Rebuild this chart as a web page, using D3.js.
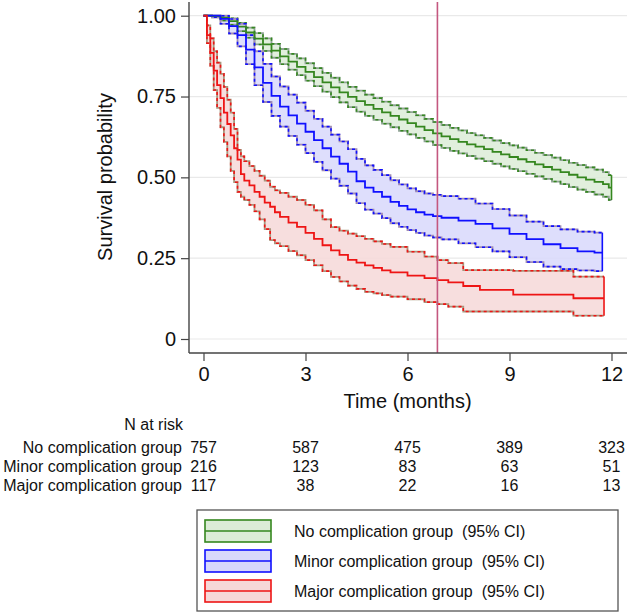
<!DOCTYPE html>
<html>
<head>
<meta charset="utf-8">
<script src="https://cdn.jsdelivr.net/npm/d3@7"></script>
<style>
  html, body { margin: 0; padding: 0; background: #fff; }
  svg { display: block; font-family: "Liberation Sans", Arial, Helvetica, sans-serif; }
</style>
</head>
<body>
<svg id="chart" width="628" height="615"></svg>
<script>
// ---------------- Data ----------------
const groupNames = ["No complication group", "Minor complication group", "Major complication group"];
const yTicks = [0, 0.25, 0.5, 0.75, 1];
const yTickLabels = ["0", "0.25", "0.50", "0.75", "1.00"];
const xTicks = [0, 3, 6, 9, 12];
const referenceTime = 6.88;

// No complication group
const noT  = [0,0.25,0.5,0.75,1.0,1.25,1.5,1.75,2.0,2.25,2.5,2.75,3.0,3.25,3.5,3.75,4.0,4.25,4.5,4.75,5.0,5.25,5.5,5.75,6.0,6.25,6.5,6.75,7.0,7.25,7.5,7.75,8.0,8.25,8.5,8.75,9.0,9.25,9.5,9.75,10.0,10.25,10.5,10.75,11.0,11.25,11.5,11.75,11.92,12.0];
const noS  = [1,0.999,0.993,0.983,0.966,0.948,0.929,0.911,0.892,0.874,0.858,0.842,0.826,0.81,0.794,0.778,0.763,0.749,0.736,0.724,0.712,0.701,0.69,0.679,0.668,0.657,0.646,0.636,0.627,0.618,0.61,0.602,0.595,0.587,0.579,0.571,0.563,0.556,0.548,0.54,0.532,0.524,0.516,0.508,0.5,0.493,0.486,0.479,0.468,0.468];
const noLo = [1,0.995,0.985,0.972,0.952,0.932,0.911,0.891,0.87,0.85,0.833,0.816,0.799,0.782,0.765,0.748,0.732,0.717,0.703,0.69,0.678,0.666,0.655,0.644,0.633,0.622,0.611,0.6,0.591,0.582,0.574,0.566,0.558,0.55,0.542,0.534,0.526,0.519,0.511,0.503,0.495,0.487,0.479,0.47,0.462,0.455,0.447,0.44,0.43,0.43];
const noHi = [1,1,0.999,0.992,0.978,0.963,0.946,0.93,0.913,0.897,0.882,0.868,0.853,0.838,0.823,0.808,0.794,0.78,0.768,0.756,0.745,0.734,0.723,0.713,0.702,0.692,0.681,0.671,0.662,0.653,0.645,0.637,0.63,0.622,0.614,0.606,0.599,0.592,0.584,0.576,0.569,0.561,0.553,0.545,0.538,0.531,0.524,0.516,0.507,0.507];

// Minor complication group
const minorT  = [0,0.25,0.5,0.75,1.0,1.25,1.5,1.75,2.0,2.25,2.5,2.75,3.0,3.25,3.5,3.75,4.0,4.25,4.5,4.75,5.0,5.25,5.5,5.75,6.0,6.25,6.5,6.75,7.0,7.5,8.0,8.5,9.0,9.5,10.0,10.5,11.0,11.5,11.73];
const minorS  = [1,1,0.99,0.968,0.94,0.895,0.84,0.792,0.752,0.719,0.692,0.666,0.641,0.615,0.59,0.564,0.542,0.518,0.488,0.468,0.455,0.44,0.424,0.412,0.401,0.392,0.385,0.38,0.375,0.366,0.356,0.342,0.325,0.309,0.293,0.281,0.271,0.267,0.267];
const minorLo = [1,0.995,0.975,0.945,0.905,0.85,0.785,0.733,0.69,0.657,0.628,0.601,0.575,0.548,0.522,0.496,0.474,0.45,0.42,0.4,0.388,0.374,0.358,0.347,0.337,0.328,0.32,0.314,0.308,0.296,0.284,0.271,0.253,0.238,0.224,0.216,0.212,0.21,0.21];
const minorHi = [1,1,1,0.99,0.975,0.94,0.89,0.851,0.812,0.781,0.756,0.731,0.706,0.681,0.657,0.632,0.611,0.587,0.557,0.537,0.523,0.507,0.491,0.478,0.466,0.457,0.45,0.446,0.442,0.434,0.419,0.402,0.382,0.363,0.349,0.339,0.332,0.329,0.329];

// Major complication group
const majorT  = [0,0.1,0.2,0.3,0.4,0.5,0.6,0.7,0.8,0.9,1.0,1.1,1.2,1.35,1.5,1.65,1.8,1.96,2.1,2.25,2.5,2.75,3.0,3.25,3.5,3.75,4.0,4.25,4.5,4.75,5.0,5.25,5.5,6.0,6.5,6.88,7.2,7.64,8.13,9.11,10.88,11.78];
const majorS  = [1,0.94,0.885,0.83,0.785,0.745,0.7,0.665,0.63,0.59,0.555,0.51,0.49,0.475,0.455,0.44,0.422,0.409,0.392,0.378,0.36,0.347,0.328,0.31,0.29,0.274,0.26,0.245,0.236,0.228,0.22,0.212,0.206,0.196,0.188,0.182,0.175,0.164,0.152,0.137,0.126,0.126];
const majorLo = [1,0.915,0.845,0.77,0.715,0.655,0.61,0.565,0.52,0.485,0.455,0.44,0.43,0.415,0.395,0.37,0.34,0.306,0.296,0.287,0.272,0.259,0.244,0.228,0.21,0.192,0.178,0.165,0.155,0.146,0.141,0.136,0.131,0.123,0.114,0.108,0.1,0.085,0.085,0.085,0.072,0.072];
const majorHi = [1,0.97,0.93,0.89,0.855,0.82,0.78,0.74,0.7,0.65,0.585,0.565,0.55,0.535,0.52,0.505,0.49,0.471,0.46,0.452,0.44,0.43,0.415,0.398,0.37,0.346,0.335,0.326,0.318,0.31,0.302,0.294,0.285,0.27,0.255,0.244,0.235,0.213,0.213,0.211,0.193,0.193];

// Numbers at risk at months 0, 3, 6, 9, 12
const riskNo    = [757, 587, 475, 389, 323];
const riskMinor = [216, 123, 83, 63, 51];
const riskMajor = [117, 38, 22, 16, 13];

const lineColors = ["#35871f", "#1010ff", "#ee1515"];
const fillColors = ["#dcecd7", "#d8d8fb", "#f6d8d8"];
const edgeGreys  = ["#8fa394", "#a08cb4", "#a8967e"];

// ---------------- Drawing ----------------
const svg = d3.select("#chart");
svg.append("rect").attr("width", 628).attr("height", 615).attr("fill", "#fff");

const x = d3.scaleLinear().domain([0, 12]).range([203.5, 611.5]);
const y = d3.scaleLinear().domain([0, 1]).range([339, 15.7]);

const axisX0 = 189, axisY0 = 353, plotRight = 627;

// gridlines
svg.append("g").selectAll("line").data(yTicks).join("line")
  .attr("x1", axisX0).attr("x2", plotRight)
  .attr("y1", d => y(d)).attr("y2", d => y(d))
  .attr("stroke", "#e9e9e9").attr("stroke-width", 1.2);

const groups = [
  {t: noT, s: noS, lo: noLo, hi: noHi},
  {t: minorT, s: minorS, lo: minorLo, hi: minorHi},
  {t: majorT, s: majorS, lo: majorLo, hi: majorHi}
];

const area = d3.area().curve(d3.curveStepAfter);
const line = d3.line().curve(d3.curveStepAfter);

// bands
groups.forEach((g, i) => {
  const pts = g.t.map((t, k) => ({t, lo: g.lo[k], hi: g.hi[k]}));
  svg.append("path")
    .attr("d", area.x(d => x(d.t)).y0(d => y(d.lo)).y1(d => y(d.hi))(pts))
    .attr("fill", fillColors[i]).attr("fill-opacity", 0.85);
});

// CI edges
groups.forEach((g, i) => {
  ["lo", "hi"].forEach(key => {
    const pts = g.t.map((t, k) => [x(t), y(g[key][k])]);
    svg.append("path").attr("d", line(pts))
      .attr("fill", "none").attr("stroke", edgeGreys[i]).attr("stroke-width", 1.8);
    svg.append("path").attr("d", line(pts))
      .attr("fill", "none").attr("stroke", lineColors[i]).attr("stroke-width", 1.6)
      .attr("stroke-dasharray", "3,3");
  });
  const n = g.t.length - 1;
  svg.append("line")
    .attr("x1", x(g.t[n])).attr("x2", x(g.t[n]))
    .attr("y1", y(g.lo[n])).attr("y2", y(g.hi[n]))
    .attr("stroke", lineColors[i]).attr("stroke-width", 1.6);
});

// survival lines
groups.forEach((g, i) => {
  const pts = g.t.map((t, k) => [x(t), y(g.s[k])]);
  svg.append("path").attr("d", line(pts))
    .attr("fill", "none").attr("stroke", lineColors[i]).attr("stroke-width", 1.8);
});

// reference vertical line
svg.append("line")
  .attr("x1", x(referenceTime)).attr("x2", x(referenceTime))
  .attr("y1", 2).attr("y2", axisY0)
  .attr("stroke", "#c4577f").attr("stroke-width", 1.6);

// axes
const yAxis = d3.axisLeft(y).tickValues(yTicks).tickSize(8).tickPadding(5)
  .tickFormat((d, i) => yTickLabels[i]);
const gy = svg.append("g").attr("transform", `translate(${axisX0},0)`).call(yAxis);
gy.select(".domain").remove();
gy.selectAll(".tick line").attr("stroke", "#444").attr("stroke-width", 1.2);
gy.selectAll(".tick text").attr("font-size", 20).attr("fill", "#111")
  .attr("font-family", "Liberation Sans, Arial, sans-serif");
svg.append("line").attr("x1", axisX0).attr("x2", axisX0).attr("y1", 2).attr("y2", axisY0)
  .attr("stroke", "#444").attr("stroke-width", 1.4);

const xAxis = d3.axisBottom(x).tickValues(xTicks).tickSize(8).tickPadding(6)
  .tickFormat(d3.format("d"));
const gx = svg.append("g").attr("transform", `translate(0,${axisY0})`).call(xAxis);
gx.select(".domain").remove();
gx.selectAll(".tick line").attr("stroke", "#444").attr("stroke-width", 1.2);
gx.selectAll(".tick text").attr("font-size", 20).attr("fill", "#111")
  .attr("font-family", "Liberation Sans, Arial, sans-serif");
svg.append("line").attr("x1", axisX0).attr("x2", plotRight).attr("y1", axisY0).attr("y2", axisY0)
  .attr("stroke", "#444").attr("stroke-width", 1.4);

// axis titles
svg.append("text")
  .attr("transform", "translate(112,177) rotate(-90)")
  .attr("text-anchor", "middle").attr("font-size", 20).attr("fill", "#111")
  .text("Survival probability");
svg.append("text")
  .attr("x", x(6)).attr("y", 408)
  .attr("text-anchor", "middle").attr("font-size", 20).attr("fill", "#111")
  .text("Time (months)");

// risk table
svg.append("text").attr("x", 183).attr("y", 424).attr("dy", "0.35em")
  .attr("text-anchor", "end").attr("font-size", 16).attr("fill", "#111").text("N at risk");
const riskRows = [riskNo, riskMinor, riskMajor];
const rowY = [447, 466, 485];
riskRows.forEach((row, r) => {
  svg.append("text").attr("x", 182).attr("y", rowY[r]).attr("dy", "0.35em")
    .attr("text-anchor", "end").attr("font-size", 16).attr("fill", "#111").text(groupNames[r]);
  svg.append("g").selectAll("text").data(row).join("text")
    .attr("x", (d, k) => x(xTicks[k])).attr("y", rowY[r]).attr("dy", "0.35em")
    .attr("text-anchor", "middle").attr("font-size", 16).attr("fill", "#111")
    .text(d => d);
});

// legend
const lg = svg.append("g");
lg.append("rect").attr("x", 197).attr("y", 510).attr("width", 421).attr("height", 101)
  .attr("fill", "#fff").attr("stroke", "#555").attr("stroke-width", 1.3);
groupNames.forEach((name, i) => {
  const ky = 520 + i * 30;
  lg.append("rect").attr("x", 205).attr("y", ky).attr("width", 66).attr("height", 22)
    .attr("fill", fillColors[i]).attr("stroke", lineColors[i]).attr("stroke-width", 1.6);
  lg.append("line").attr("x1", 205).attr("x2", 271).attr("y1", ky + 11).attr("y2", ky + 11)
    .attr("stroke", lineColors[i]).attr("stroke-width", 1.6);
  lg.append("text").attr("x", 294).attr("y", ky + 11).attr("dy", "0.35em")
    .attr("font-size", 16).attr("fill", "#111")
    .text(name + "\u00a0\u00a0(95% CI)");
});
</script>
</body>
</html>
